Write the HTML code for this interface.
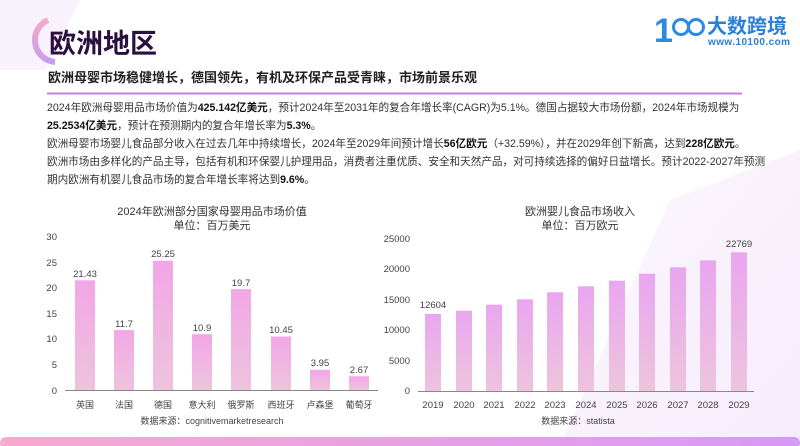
<!DOCTYPE html>
<html><head><meta charset="utf-8">
<style>
html,body{margin:0;padding:0;}
body{width:800px;height:446px;overflow:hidden;position:relative;background:#fff;font-family:"Liberation Sans","Noto Sans CJK SC",sans-serif;}
.p{position:absolute;left:47px;font-size:10.6px;color:#333;white-space:nowrap;}
.p b{color:#111;}
</style></head><body>
<svg width="800" height="446" style="position:absolute;left:0;top:0">
<defs>
<linearGradient id="g1" x1="0" y1="0" x2="0" y2="1"><stop offset="0" stop-color="#f2a6e6"/><stop offset="1" stop-color="#edc4dc"/></linearGradient>
<linearGradient id="g2" x1="0" y1="0" x2="0" y2="1"><stop offset="0" stop-color="#e9a6f0"/><stop offset="1" stop-color="#edc4dc"/></linearGradient>
<linearGradient id="arc" x1="0" y1="0" x2="0" y2="1"><stop offset="0" stop-color="#f7a9c8"/><stop offset="1" stop-color="#c99cf0"/></linearGradient>
<linearGradient id="band" x1="0" y1="0" x2="1" y2="0"><stop offset="0" stop-color="#f7a9cf"/><stop offset="1" stop-color="#d79af5"/></linearGradient>
<linearGradient id="bg" x1="0" y1="0" x2="1" y2="1"><stop offset="0" stop-color="#fbf6fd"/><stop offset="1" stop-color="#f4e8fb"/></linearGradient>
</defs>
<polygon points="0,0 80,0 45,70 0,70" fill="#f7f2fb"/>
<polygon points="670,200 800,150 800,446 560,446" fill="url(#bg)" opacity="0.8"/>
<path d="M48,20 A22,22 0 0 0 55,62" stroke="url(#arc)" stroke-width="6" fill="none"/>
<text x="49" y="53" font-size="27" font-weight="bold" fill="#2c0f3f">欧洲地区</text>
<text x="48" y="82" font-size="13" font-weight="bold" fill="#222">欧洲母婴市场稳健增长，德国领先，有机及环保产品受青睐，市场前景乐观</text>
<line x1="47" y1="93.5" x2="742" y2="93.5" stroke="#c480e0" stroke-width="2"/>
<!-- logo -->
<text x="654" y="42" font-size="34" fill="#2a8be0" font-weight="bold">1</text>
<circle cx="681" cy="27" r="7.5" stroke="#2a8be0" stroke-width="3" fill="none"/>
<circle cx="696" cy="27" r="7.5" stroke="#2a8be0" stroke-width="3" fill="none"/>
<text x="707" y="33" font-size="20" font-weight="bold" fill="#2a7fd8">大数跨境</text>
<text x="708" y="45" font-size="10" font-weight="bold" fill="#2a7fd8" textLength="82">www.10100.com</text>
<!-- left chart -->
<text x="212" y="215" font-size="11" fill="#333" text-anchor="middle">2024年欧洲部分国家母婴用品市场价值</text>
<text x="212" y="229" font-size="11" fill="#333" text-anchor="middle">单位：百万美元</text>
<g font-size="9.5" fill="#444" text-anchor="end">
<text x="57" y="240">30</text><text x="57" y="266">25</text><text x="57" y="291">20</text><text x="57" y="317">15</text><text x="57" y="342">10</text><text x="57" y="368">5</text><text x="57" y="394">0</text>
</g>
<g fill="url(#g1)">
<rect x="75" y="280.3" width="20" height="109.7"/>
<rect x="114" y="330.1" width="20" height="59.9"/>
<rect x="153" y="260.7" width="20" height="129.3"/>
<rect x="192" y="334.2" width="20" height="55.8"/>
<rect x="231" y="289.1" width="20" height="100.9"/>
<rect x="271" y="336.5" width="20" height="53.5"/>
<rect x="310" y="369.8" width="20" height="20.2"/>
<rect x="349" y="376.3" width="20" height="13.7"/>
</g>
<line x1="65" y1="390.5" x2="378" y2="390.5" stroke="#888" stroke-width="1"/>
<g font-size="9.5" fill="#444" text-anchor="middle">
<text x="85" y="277">21.43</text><text x="124" y="327">11.7</text><text x="163" y="257">25.25</text><text x="202" y="331">10.9</text><text x="241" y="286">19.7</text><text x="281" y="333">10.45</text><text x="320" y="366">3.95</text><text x="359" y="373">2.67</text>
</g>
<g font-size="9" fill="#444" text-anchor="middle">
<text x="85" y="408">英国</text><text x="124" y="408">法国</text><text x="163" y="408">德国</text><text x="202" y="408">意大利</text><text x="241" y="408">俄罗斯</text><text x="281" y="408">西班牙</text><text x="320" y="408">卢森堡</text><text x="359" y="408">葡萄牙</text>
</g>
<text x="212" y="424" font-size="9" fill="#444" text-anchor="middle">数据来源：cognitivemarketresearch</text>
<!-- right chart -->
<text x="580" y="215" font-size="11" fill="#333" text-anchor="middle">欧洲婴儿食品市场收入</text>
<text x="580" y="229" font-size="11" fill="#333" text-anchor="middle">单位：百万欧元</text>
<g font-size="9.5" fill="#444" text-anchor="end">
<text x="410" y="242">25000</text><text x="410" y="272">20000</text><text x="410" y="303">15000</text><text x="410" y="333">10000</text><text x="410" y="364">5000</text><text x="410" y="394">0</text>
</g>
<g fill="url(#g2)">
<rect x="425" y="313.9" width="16" height="77.1"/>
<rect x="456" y="310.7" width="16" height="80.3"/>
<rect x="486" y="304.7" width="16" height="86.3"/>
<rect x="517" y="299.3" width="16" height="91.7"/>
<rect x="547" y="292.3" width="16" height="98.7"/>
<rect x="578" y="286.3" width="16" height="104.7"/>
<rect x="609" y="280.7" width="16" height="110.3"/>
<rect x="639" y="273.7" width="16" height="117.3"/>
<rect x="670" y="267.3" width="16" height="123.7"/>
<rect x="700" y="260.3" width="16" height="130.7"/>
<rect x="731" y="252.3" width="16" height="138.7"/>
</g>
<line x1="418" y1="391.5" x2="754" y2="391.5" stroke="#888" stroke-width="1"/>
<text x="433" y="308" font-size="9.5" fill="#444" text-anchor="middle">12604</text>
<text x="739" y="247" font-size="9.5" fill="#444" text-anchor="middle">22769</text>
<g font-size="9.5" fill="#444" text-anchor="middle">
<text x="433" y="408">2019</text><text x="464" y="408">2020</text><text x="494" y="408">2021</text><text x="525" y="408">2022</text><text x="555" y="408">2023</text><text x="586" y="408">2024</text><text x="617" y="408">2025</text><text x="647" y="408">2026</text><text x="678" y="408">2027</text><text x="708" y="408">2028</text><text x="739" y="408">2029</text>
</g>
<text x="578" y="424" font-size="9" fill="#444" text-anchor="middle">数据来源：statista</text>
<rect x="0" y="437" width="800" height="12" rx="6" fill="url(#band)"/>
</svg>
<div class="p" style="top:100px">2024年欧洲母婴用品市场价值为<b>425.142亿美元</b>，预计2024年至2031年的复合年增长率(CAGR)为5.1%。德国占据较大市场份额，2024年市场规模为</div>
<div class="p" style="top:118px"><b>25.2534亿美元</b>，预计在预测期内的复合年增长率为<b>5.3%</b>。</div>
<div class="p" style="top:136px">欧洲母婴市场婴儿食品部分收入在过去几年中持续增长，2024年至2029年间预计增长<b>56亿欧元</b>（+32.59%），并在2029年创下新高，达到<b>228亿欧元</b>。</div>
<div class="p" style="top:154px">欧洲市场由多样化的产品主导，包括有机和环保婴儿护理用品，消费者注重优质、安全和天然产品，对可持续选择的偏好日益增长。预计2022-2027年预测</div>
<div class="p" style="top:172px">期内欧洲有机婴儿食品市场的复合年增长率将达到<b>9.6%</b>。</div>
</body></html>
